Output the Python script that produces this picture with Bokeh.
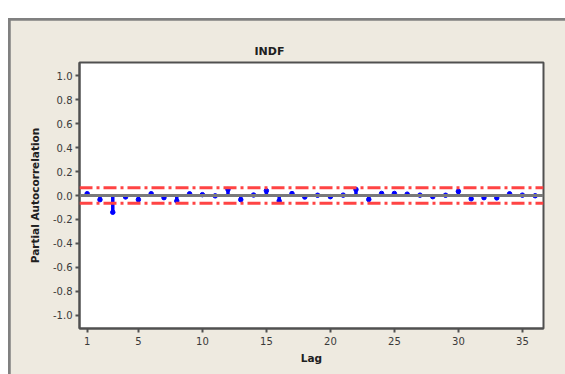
from bokeh.plotting import figure
from bokeh.models import Range1d, FixedTicker, NumeralTickFormatter, Span, Title
from bokeh.layouts import column
from bokeh.embed import file_html
from bokeh.resources import INLINE

# ---- data ----
lags = list(range(1, 37))
pacf = [0.015, -0.035, -0.14, -0.012, -0.035, 0.015, -0.018, -0.045, 0.014, 0.007,
        -0.003, 0.05, -0.035, 0.004, 0.04, -0.045, 0.016, -0.013, 0.002, -0.01,
        0.003, 0.05, -0.033, 0.017, 0.017, 0.011, 0.003, -0.01, 0.002, 0.035,
        -0.028, -0.018, -0.02, 0.014, 0.003, -0.002]
conf_limit = 0.065
x_ticks = [1, 5, 10, 15, 20, 25, 30, 35]
y_ticks = [-1.0, -0.8, -0.6, -0.4, -0.2, 0.0, 0.2, 0.4, 0.6, 0.8, 1.0]
title_text = "INDF"
x_label = "Lag"
y_label = "Partial Autocorrelation"

BEIGE = "#eeeae0"
FONT = "DejaVu Sans"

fig = figure(width=555, height=354, output_backend="svg", toolbar_location=None,
             x_range=Range1d(0.4, 36.65), y_range=Range1d(-1.11, 1.11),
             min_border_left=69, min_border_right=22, min_border_top=42, min_border_bottom=46)
fig.border_fill_color = BEIGE
fig.background_fill_color = "white"
fig.outline_line_color = "#505050"
fig.outline_line_width = 2
fig.xgrid.visible = False
fig.ygrid.visible = False

t = Title(text=title_text, align="left", offset=175, text_font=FONT,
          text_font_size="11px", text_font_style="bold", text_color="#202020")
fig.add_layout(t, "above")

for ax in (fig.xaxis[0], fig.yaxis[0]):
    ax.axis_line_color = "#505050"
    ax.axis_line_width = 2
    ax.major_tick_line_color = "#505050"
    ax.major_tick_line_width = 2
    ax.major_tick_in = 0
    ax.major_tick_out = 4
    ax.minor_tick_line_color = None
    ax.major_label_text_font = FONT
    ax.major_label_text_font_size = "10px"
    ax.major_label_text_color = "#3a3a3a"
    ax.axis_label_text_font = FONT
    ax.axis_label_text_font_size = "10.5px"
    ax.axis_label_text_font_style = "bold"
    ax.axis_label_text_color = "#202020"

fig.xaxis.ticker = FixedTicker(ticks=x_ticks)
fig.yaxis.ticker = FixedTicker(ticks=y_ticks)
fig.yaxis.formatter = NumeralTickFormatter(format="0.0")
fig.xaxis.axis_label = x_label
fig.yaxis.axis_label = y_label
fig.xaxis.major_label_standoff = 4
fig.yaxis.major_label_standoff = 3
fig.xaxis.axis_label_standoff = 4
fig.yaxis.axis_label_standoff = 9

# zero line
fig.add_layout(Span(location=0, dimension="width", line_color="#7a7a7a", line_width=3))
# confidence limits
for lim in (conf_limit, -conf_limit):
    fig.add_layout(Span(location=lim, dimension="width", line_color="#ff4444",
                        line_width=3, line_dash="13 4 3 4"))

fig.segment(x0=lags, y0=[0] * len(lags), x1=lags, y1=pacf, line_color="#0000ff", line_width=3.5)
fig.scatter(lags, pacf, size=4.5, color="#0000ff")

fig.margin = (2, 0, 0, 2)
p = column(fig, margin=(18, 0, 0, 8), styles={"background-color": "#808080"})

open("out.html", "w").write(file_html(p, INLINE))
